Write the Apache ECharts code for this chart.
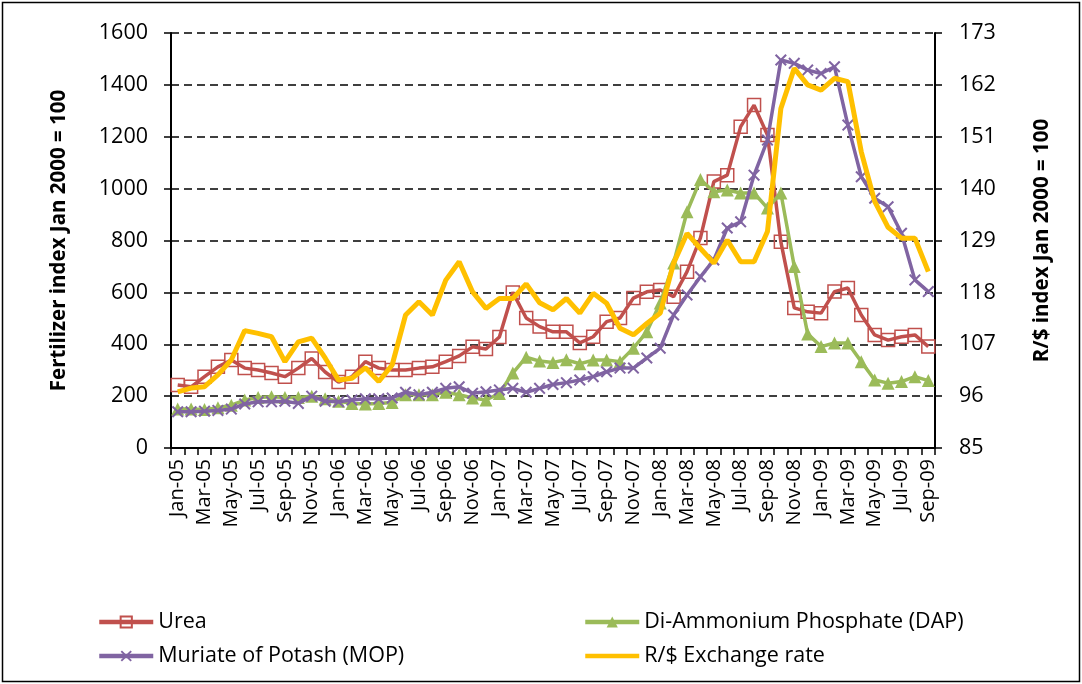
<!DOCTYPE html>
<html>
<head>
<meta charset="utf-8">
<script src="https://cdn.jsdelivr.net/npm/echarts@6/dist/echarts.min.js"></script>
<style>
  html, body { margin: 0; padding: 0; background: #fff; }
  #chart { width: 1082px; height: 684px; }
</style>
</head>
<body>
<div id="chart"></div>
<script>
const categories = ['Jan-05','Feb-05','Mar-05','Apr-05','May-05','Jun-05','Jul-05','Aug-05','Sep-05','Oct-05','Nov-05','Dec-05',
  'Jan-06','Feb-06','Mar-06','Apr-06','May-06','Jun-06','Jul-06','Aug-06','Sep-06','Oct-06','Nov-06','Dec-06',
  'Jan-07','Feb-07','Mar-07','Apr-07','May-07','Jun-07','Jul-07','Aug-07','Sep-07','Oct-07','Nov-07','Dec-07',
  'Jan-08','Feb-08','Mar-08','Apr-08','May-08','Jun-08','Jul-08','Aug-08','Sep-08','Oct-08','Nov-08','Dec-08',
  'Jan-09','Feb-09','Mar-09','Apr-09','May-09','Jun-09','Jul-09','Aug-09','Sep-09'];

const urea = [243,236,275,313,339,308,301,289,275,308,345,293,
  254,275,333,308,301,301,308,313,333,355,390,382,
  428,600,501,468,448,448,405,429,487,501,578,602,
  609,583,680,810,1027,1052,1239,1322,1207,795,540,525,
  520,603,617,513,436,416,429,436,391];

const dap = [150,150,148,155,165,185,195,198,195,195,200,190,
  180,172,170,172,175,205,205,205,215,205,193,185,
  210,289,350,335,330,340,325,339,339,333,385,448,
  559,713,911,1035,988,995,983,983,925,983,700,440,
  391,405,405,333,262,250,256,275,260];

const mop = [140,140,142,145,150,170,178,178,180,172,200,180,
  178,185,190,190,193,215,205,215,230,236,211,217,
  224,230,215,230,245,252,262,275,294,308,308,347,
  385,513,590,660,725,848,872,1052,1187,1496,1483,1457,
  1444,1470,1245,1046,963,930,828,648,603];

const exchange = [96.9,97.7,98.0,100.5,103.7,109.9,109.3,108.6,103.3,107.5,108.3,104.1,
  99.4,99.8,102.0,99.1,102.6,113.2,116.0,113.2,120.6,124.5,118.1,114.6,
  116.7,116.7,119.8,115.8,114.3,116.7,113.6,117.8,115.7,110.4,109.0,111.4,
  113.6,124.2,130.5,127.3,124.2,129.1,124.5,124.5,130.9,157.0,165.5,162.0,
  160.9,163.4,162.7,147.8,137.3,131.8,129.5,129.5,122.4];

const leftTicks = { min: 0, max: 1600, interval: 200 };
const rightTicks = { min: 85, max: 173, interval: 11 };

const FONT = "'Open Sans', 'DejaVu Sans', sans-serif";
const xShape = 'path://M0,1.2L1.2,0L5,3.8L8.8,0L10,1.2L6.2,5L10,8.8L8.8,10L5,6.2L1.2,10L0,8.8L3.8,5Z';

const chart = echarts.init(document.getElementById('chart'), null, { renderer: 'canvas' });

const legendText = { fontFamily: FONT, fontSize: 21.5, color: '#000' };

const option = {
  backgroundColor: '#ffffff',
  animation: false,
  textStyle: { fontFamily: FONT, color: '#000' },
  graphic: [{
    type: 'rect',
    shape: { x: 2.5, y: 2.5, width: 1077, height: 679 },
    style: { fill: 'none', stroke: '#000', lineWidth: 1.5 },
    silent: true
  }],
  grid: { left: 171, right: 147, top: 33, bottom: 236, containLabel: false },
  legend: [{
    left: 97, top: 611, orient: 'vertical', itemGap: 12, padding: 0,
    itemWidth: 54, itemHeight: 14,
    lineStyle: { width: 4.5 },
    textStyle: legendText,
    data: ['Urea', 'Muriate of Potash (MOP)']
  }, {
    left: 583, top: 611, orient: 'vertical', itemGap: 12, padding: 0,
    itemWidth: 54, itemHeight: 14,
    lineStyle: { width: 4.5 },
    textStyle: legendText,
    data: ['Di-Ammonium Phosphate (DAP)',
      { name: 'R/$ Exchange rate', itemStyle: { color: 'rgba(0,0,0,0)', borderWidth: 0, opacity: 0 } }]
  }],
  xAxis: {
    type: 'category',
    data: categories,
    boundaryGap: true,
    axisLine: { lineStyle: { color: '#000', width: 2 } },
    axisTick: { show: true, interval: 0, length: 7, lineStyle: { color: '#000', width: 1.5 } },
    axisLabel: { interval: 1, rotate: 90, fontSize: 20, color: '#000', fontFamily: FONT, margin: 11 },
    splitLine: { show: false }
  },
  yAxis: [{
    type: 'value',
    min: leftTicks.min, max: leftTicks.max, interval: leftTicks.interval,
    name: 'Fertilizer index Jan 2000 = 100',
    nameLocation: 'middle', nameRotate: 90, nameGap: 101,
    nameTextStyle: { fontFamily: FONT, fontSize: 20.5, fontWeight: 'bold', color: '#000' },
    axisLine: { show: true, lineStyle: { color: '#000', width: 2 } },
    axisTick: { show: true, length: 7, lineStyle: { color: '#000', width: 1.5 } },
    axisLabel: { fontSize: 21.5, color: '#000', fontFamily: FONT, margin: 23, formatter: v => String(v) },
    splitLine: { show: true, lineStyle: { color: '#000', width: 1.5, type: [8, 5] } }
  }, {
    type: 'value',
    position: 'right',
    min: rightTicks.min, max: rightTicks.max, interval: rightTicks.interval,
    name: 'R/$ index Jan 2000 = 100',
    nameLocation: 'middle', nameRotate: 90, nameGap: 97,
    nameTextStyle: { fontFamily: FONT, fontSize: 20.5, fontWeight: 'bold', color: '#000' },
    axisLine: { show: true, lineStyle: { color: '#000', width: 2 } },
    axisTick: { show: true, length: 7, lineStyle: { color: '#000', width: 1.5 } },
    axisLabel: { fontSize: 21.5, color: '#000', fontFamily: FONT, margin: 24, formatter: v => String(v) },
    splitLine: { show: false }
  }],
  series: [{
    name: 'Urea',
    type: 'line',
    data: urea,
    yAxisIndex: 0,
    symbol: 'rect',
    symbolSize: 13,
    showAllSymbol: true,
    lineStyle: { color: '#C0504D', width: 3.5 },
    itemStyle: { color: 'rgba(255,255,255,0)', borderColor: '#C0504D', borderWidth: 1.5 },
    z: 2
  }, {
    name: 'Di-Ammonium Phosphate (DAP)',
    type: 'line',
    data: dap,
    yAxisIndex: 0,
    symbol: 'triangle',
    symbolSize: 13,
    showAllSymbol: true,
    lineStyle: { color: '#9BBB59', width: 3.5 },
    itemStyle: { color: '#9BBB59', borderWidth: 0 },
    z: 3
  }, {
    name: 'Muriate of Potash (MOP)',
    type: 'line',
    data: mop,
    yAxisIndex: 0,
    symbol: xShape,
    symbolSize: 12,
    showAllSymbol: true,
    lineStyle: { color: '#8064A2', width: 3.5 },
    itemStyle: { color: '#8064A2', borderWidth: 0 },
    z: 4
  }, {
    name: 'R/$ Exchange rate',
    type: 'line',
    data: exchange,
    yAxisIndex: 1,
    symbol: 'none',
    lineStyle: { color: '#FFC000', width: 5 },
    itemStyle: { color: '#FFC000' },
    z: 5
  }]
};

chart.setOption(option);
</script>
</body>
</html>
